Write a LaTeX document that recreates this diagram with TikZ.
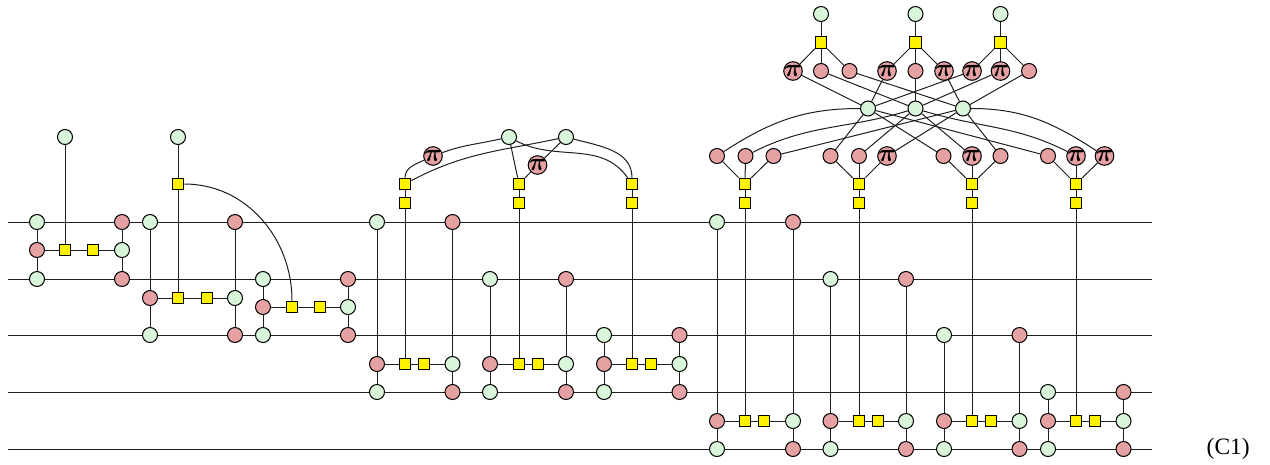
\documentclass[tikz,border=0pt]{standalone}
\usepackage{fontspec}
\setmainfont{Liberation Serif}
\usetikzlibrary{backgrounds}
\definecolor{gfill}{HTML}{D9F6DA}
\definecolor{rfill}{HTML}{E6A1A3}
\definecolor{yfill}{HTML}{FFF200}
\tikzset{
  x=1pt,y=1pt,
  gn/.style={circle,draw=black,fill=gfill,minimum size=15pt,inner sep=0pt,line width=1pt},
  rn/.style={circle,draw=black,fill=rfill,minimum size=15pt,inner sep=0pt,line width=1pt},
  pn/.style={circle,draw=black,fill=rfill,minimum size=18.6pt,inner sep=0pt,line width=1pt,font=\fontsize{24}{24}\selectfont\boldmath},
  sq/.style={rectangle,draw=black,fill=yfill,minimum size=11.6pt,inner sep=0pt,line width=1pt},
  wire/.style={line width=1pt,draw=black!88},
  edge/.style={line width=1pt,draw=black!88}
}
\newcommand\gatebox[8]{%
 % #1 id, #2 xl, #3 xs1, #4 xs2, #5 xr, #6 ytop, #7 ymid, #8 ybot
 \node[gn] (#1a) at (#2,-#6) {};
 \node[rn] (#1b) at (#5,-#6) {};
 \node[rn] (#1c) at (#2,-#7) {};
 \node[sq] (#1s) at (#3,-#7) {};
 \node[sq] (#1t) at (#4,-#7) {};
 \node[gn] (#1d) at (#5,-#7) {};
 \node[gn] (#1e) at (#2,-#8) {};
 \node[rn] (#1f) at (#5,-#8) {};
 \begin{pgfonlayer}{background}
  \draw[edge] (#1a)--(#1c)--(#1e);
  \draw[edge] (#1b)--(#1d)--(#1f);
  \draw[edge] (#1c)--(#1s)--(#1t)--(#1d);
 \end{pgfonlayer}
}
\newcommand\gn[3]{\node[gn] (#1) at (#2,-#3) {};}
\newcommand\rn[3]{\node[rn] (#1) at (#2,-#3) {};}
\newcommand\pn[3]{\node[pn] (#1) at (#2,-#3) {\makebox[0pt]{$\pi$}};}
\newcommand\sq[3]{\node[sq] (#1) at (#2,-#3) {};}
\begin{document}
\begin{tikzpicture}
\path[use as bounding box] (0,0) rectangle (1270,-464);
% wires
\foreach \i/\y in {1/222,2/279,3/335,4/392,5/449}{
  \coordinate (wl\i) at (8,-\y);
  \coordinate (wr\i) at (1152,-\y);
  \begin{pgfonlayer}{background}
   \draw[wire] (wl\i)--(wr\i);
  \end{pgfonlayer}
}
% gates
\gatebox{A}{37}{65}{93}{122}{222}{250}{279}
\gatebox{B}{150}{178}{207}{235}{222}{298}{335}
\gatebox{C}{263}{292}{320}{348}{279}{307}{335}
\gatebox{D}{377}{405}{424}{452.5}{222}{364}{392}
\gatebox{E}{490}{519}{538}{566}{279}{364}{392}
\gatebox{F}{604}{632}{651}{679.5}{335}{364}{392}
\gatebox{G}{717}{745}{764}{793}{222}{421}{449}
\gatebox{H}{830.5}{859}{878}{906}{279}{421}{449}
\gatebox{I}{944}{972}{991}{1019.5}{335}{421}{449}
\gatebox{J}{1048}{1076}{1095}{1123.5}{392}{421}{449}
% first part tops
\gn{t1}{65}{137}
\gn{t2}{178}{137}
\sq{u2}{178}{184}
% second part
\gn{t3}{509}{137}
\gn{t4}{566}{137}
\pn{p1}{433}{156}
\pn{p2}{537.5}{165}
\sq{D1}{405}{184}\sq{D2}{405}{203}
\sq{E1}{519}{184}\sq{E2}{519}{203}
\sq{F1}{632}{184}\sq{F2}{632}{203}
% third part
\sq{G1}{745}{184}\sq{G2}{745}{203}
\sq{H1}{859}{184}\sq{H2}{859}{203}
\sq{I1}{972}{184}\sq{I2}{972}{203}
\sq{J1}{1076}{184}\sq{J2}{1076}{203}
\gn{k1}{821}{14}\gn{k2}{915.5}{14}\gn{k3}{1000.5}{14}
\sq{q1}{821}{42.5}\sq{q2}{915.5}{42.5}\sq{q3}{1000.5}{42.5}
\pn{a1}{793}{71}\rn{a2}{821}{71}\rn{a3}{849.5}{71}
\pn{a4}{887}{71}\rn{a5}{915.5}{71}\pn{a6}{944}{71}
\pn{a7}{972}{71}\pn{a8}{1000.5}{71}\rn{a9}{1029}{71}
\gn{m1}{868}{108.5}\gn{m2}{915.5}{108.5}\gn{m3}{963}{108.5}
\rn{b1}{717}{156}\rn{b2}{745.5}{156}\rn{b3}{773.5}{156}
\rn{b4}{830.5}{156}\rn{b5}{859}{156}\pn{b6}{887}{156}
\rn{b7}{943.5}{156}\pn{b8}{972}{156}\rn{b9}{1000.5}{156}
\rn{b10}{1048}{156}\pn{b11}{1076}{156}\pn{b12}{1104.5}{156}
\node[font=\fontsize{23.5}{24}\selectfont,anchor=east,inner sep=0pt] (lab) at (1250,-449) {(C1)};
\begin{pgfonlayer}{background}
 \draw[edge] (t1)--(As);
 \draw[edge] (t2)--(u2)--(Bs);
 \draw[edge] (u2) to[out=0,in=90] (Cs);
 \draw[edge] (Ds)--(D2)--(D1);
 \draw[edge] (Es)--(E2)--(E1);
 \draw[edge] (Fs)--(F2)--(F1);
 \draw[edge] (D1) to[out=90,in=205] (p1);
 \draw[edge] (p1) to[out=20,in=193] (t3);
 \draw[edge] (D1) to[out=28,in=192] (t4);
 \draw[edge] (t3)--(E1);
 \draw[edge] (E1)--(p2)--(t4);
 \draw[edge] (t3) to[out=-28,in=125] (F1);
 \draw[edge] (t4) to[out=-15,in=90] (F1);
 % third part
 \draw[edge] (Gs)--(G2)--(G1);
 \draw[edge] (Hs)--(H2)--(H1);
 \draw[edge] (Is)--(I2)--(I1);
 \draw[edge] (Js)--(J2)--(J1);
 \draw[edge] (k1)--(q1); \draw[edge] (k2)--(q2); \draw[edge] (k3)--(q3);
 \draw[edge] (q1)--(a1); \draw[edge] (q1)--(a2); \draw[edge] (q1)--(a3);
 \draw[edge] (q2)--(a4); \draw[edge] (q2)--(a5); \draw[edge] (q2)--(a6);
 \draw[edge] (q3)--(a7); \draw[edge] (q3)--(a8); \draw[edge] (q3)--(a9);
 \draw[edge] (a1)--(m1); \draw[edge] (a2)--(m2); \draw[edge] (a3)--(m3);
 \draw[edge] (a4)--(m1); \draw[edge] (a5)--(m2); \draw[edge] (a6)--(m3);
 \draw[edge] (a7)--(m1); \draw[edge] (a8)--(m2); \draw[edge] (a9)--(m3);
 \draw[edge] (G1)--(b2); \draw[edge] (G1)--(b1); \draw[edge] (G1)--(b3);
 \draw[edge] (H1)--(b4); \draw[edge] (H1)--(b5); \draw[edge] (H1)--(b6);
 \draw[edge] (I1)--(b7); \draw[edge] (I1)--(b8); \draw[edge] (I1)--(b9);
 \draw[edge] (J1)--(b10); \draw[edge] (J1)--(b11); \draw[edge] (J1)--(b12);
 \draw[edge] (m1) to[out=180,in=33] (b1);
 \draw[edge] (m2) to[out=197,in=27] (b2);
 \draw[edge] (m3)--(b3);
 \draw[edge] (m1)--(b4); \draw[edge] (m2)--(b5); \draw[edge] (m3)--(b6);
 \draw[edge] (m1)--(b7); \draw[edge] (m2)--(b8); \draw[edge] (m3)--(b9);
 \draw[edge] (m1)--(b10);
 \draw[edge] (m2) to[out=-17,in=153] (b11);
 \draw[edge] (m3) to[out=0,in=147] (b12);
\end{pgfonlayer}
\end{tikzpicture}
\end{document}
